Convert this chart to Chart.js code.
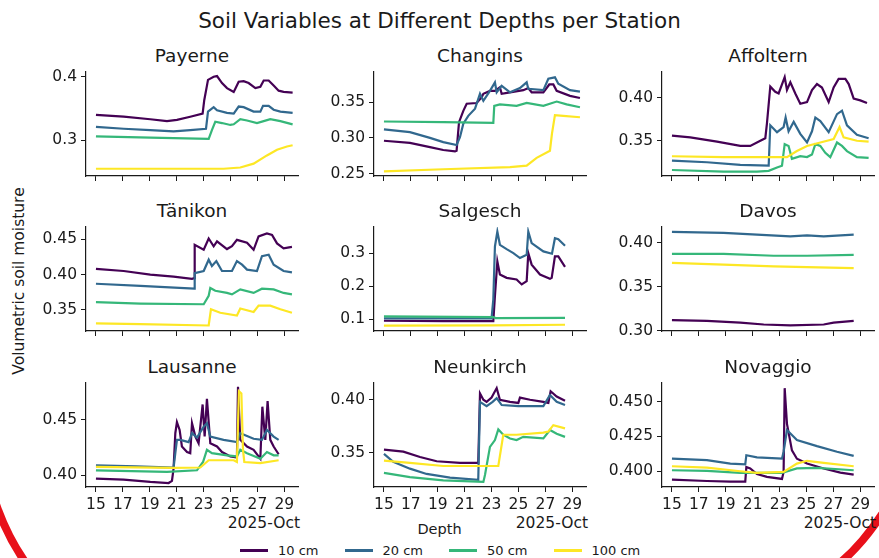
<!DOCTYPE html>
<html>
<head>
<meta charset="utf-8">
<script src="https://cdn.jsdelivr.net/npm/chart.js@4.4.1/dist/chart.umd.min.js"></script>
<style>
  body { margin: 0; width: 879px; height: 558px; overflow: hidden; background: #fff; position: relative; font-family: "DejaVu Sans", sans-serif; color: #1a1a1a; }
  .txt { position: absolute; white-space: nowrap; line-height: 1; }
  canvas.panel { position: absolute; }
  #legend { position: absolute; top: 542px; left: 240px; height: 16px; display: flex; align-items: center; font-size: 13px; }
  #legend .item { display: flex; align-items: center; margin-right: 26px; }
  #legend .swatch { width: 28px; height: 3px; margin-right: 10px; }
  #deco { position: absolute; left: 0; top: 0; pointer-events: none; }
</style>
</head>
<body>
<div class="txt" id="title" style="left:0; width:879px; text-align:center; top:10px; font-size:21.5px;">Soil Variables at Different Depths per Station</div>
<div class="txt" id="ylabel" style="left:20px; top:281px; font-size:15.5px; transform: translate(-50%, -50%) rotate(-90deg);">Volumetric soil moisture</div>
<div class="txt" style="left:0; width:879px; text-align:center; top:522px; font-size:14.5px;">Depth</div>
<div id="legend"></div>
<svg id="deco" width="879" height="558">
  <path d="M -6 498 Q 6 536 28 566" fill="none" stroke="#e8101a" stroke-width="8"/>
  <path d="M 836 566 Q 862 546 886 508" fill="none" stroke="#e8101a" stroke-width="8"/>
</svg>
<script>
// depth series colours (viridis)
const depths = ["10 cm", "20 cm", "50 cm", "100 cm"];
const depthColors = ["#440154", "#31688e", "#35b779", "#fde725"];

// x axis: day of October 2025
const dayTicks = ["15", "17", "19", "21", "23", "25", "27", "29"];
const dayRange = [14.26, 30.02];

const stations = ["Payerne", "Changins", "Affoltern", "Tänikon", "Salgesch", "Davos", "Lausanne", "Neunkirch", "Novaggio"];

// per station y limits and tick labels
const yRanges = [
  [0.2436, 0.4074], [0.2465, 0.3925], [0.309, 0.430],
  [0.3202, 0.4672], [0.064, 0.379], [0.2996, 0.4176],
  [0.3894, 0.4834], [0.3177, 0.4158], [0.3887, 0.4633]
];
const yTicks = [
  ["0.3", "0.4"], ["0.25", "0.30", "0.35"], ["0.35", "0.40"],
  ["0.35", "0.40", "0.45"], ["0.1", "0.2", "0.3"], ["0.30", "0.35", "0.40"],
  ["0.40", "0.45"], ["0.35", "0.40"], ["0.400", "0.425", "0.450"]
];

// series: [day, value] for 10, 20, 50, 100 cm
const payerne = [
  [[15.0,.340],[17.06,.337],[19.04,.333],[20.28,.330],[21.02,.332],[22.01,.337],[22.93,.342],[23.05,.363],[23.33,.395],[23.75,.400],[24.0,.401],[24.37,.390],[24.74,.382],[25.24,.376],[25.36,.381],[25.61,.392],[25.98,.393],[26.35,.390],[26.85,.382],[27.22,.384],[27.47,.394],[27.84,.394],[28.21,.386],[28.58,.378],[28.95,.376],[29.62,.375]],
  [[15.0,.321],[17.06,.318],[19.04,.316],[20.77,.314],[22.01,.316],[23.18,.318],[23.33,.345],[23.75,.352],[24.0,.347],[24.74,.343],[25.24,.342],[25.61,.353],[25.98,.352],[26.72,.345],[27.22,.345],[27.42,.354],[27.84,.354],[28.21,.348],[28.71,.345],[29.62,.343]],
  [[15.0,.306],[19.04,.304],[23.38,.302],[23.62,.316],[23.87,.329],[24.37,.327],[24.99,.324],[25.24,.325],[25.73,.333],[26.23,.331],[26.97,.327],[27.47,.330],[27.96,.333],[28.71,.330],[29.62,.325]],
  [[15.0,.255],[20.77,.255],[24.49,.255],[25.73,.257],[26.72,.263],[27.71,.276],[28.46,.285],[29.20,.290],[29.62,.292]]
];
const changins = [
  [[15.0,.296],[16.93,.293],[18.42,.287],[19.41,.283],[20.28,.281],[20.40,.282],[20.58,.322],[20.90,.338],[21.15,.348],[21.89,.349],[22.26,.357],[22.39,.362],[22.88,.366],[23.25,.366],[23.62,.371],[23.75,.362],[24.37,.364],[25.36,.367],[25.73,.370],[25.98,.364],[26.85,.364],[27.29,.375],[27.59,.375],[27.84,.366],[28.83,.359],[29.57,.356]],
  [[15.0,.312],[16.93,.308],[18.42,.300],[19.41,.294],[20.40,.290],[20.65,.301],[20.90,.320],[21.27,.331],[21.77,.341],[22.14,.362],[22.39,.352],[22.88,.366],[23.25,.378],[23.38,.364],[23.75,.373],[24.37,.364],[25.11,.370],[25.61,.378],[25.73,.369],[26.85,.367],[27.22,.383],[27.71,.385],[27.96,.376],[28.83,.367],[29.57,.365]],
  [[15.0,.323],[19.41,.322],[23.13,.321],[23.20,.345],[23.62,.347],[24.86,.345],[25.61,.349],[26.85,.345],[27.84,.351],[28.58,.347],[29.57,.343]],
  [[15.0,.253],[19.41,.256],[24.37,.259],[25.61,.261],[26.35,.272],[27.34,.282],[27.49,.306],[27.71,.332],[28.33,.331],[29.57,.329]]
];
const affoltern = [
  [[15.0,.356],[16.36,.354],[18.35,.349],[20.08,.344],[20.82,.344],[21.57,.350],[21.94,.353],[22.06,.370],[22.31,.413],[22.68,.407],[22.93,.405],[23.38,.424],[23.55,.409],[23.80,.418],[24.17,.405],[24.54,.393],[25.04,.395],[25.41,.409],[25.78,.416],[26.15,.412],[26.65,.395],[27.02,.412],[27.39,.422],[27.89,.422],[28.14,.416],[28.51,.399],[29.0,.397],[29.50,.394]],
  [[15.0,.327],[17.60,.325],[20.08,.322],[22.19,.321],[22.31,.368],[22.81,.360],[23.30,.366],[23.45,.377],[23.67,.361],[24.05,.372],[24.54,.358],[25.04,.348],[25.41,.361],[25.66,.377],[26.03,.373],[26.65,.360],[27.27,.381],[27.64,.385],[28.01,.368],[28.75,.357],[29.62,.353]],
  [[15.0,.316],[18.84,.314],[21.32,.314],[22.19,.315],[22.81,.319],[23.18,.321],[23.38,.346],[23.67,.344],[23.92,.329],[24.54,.332],[25.04,.331],[25.41,.334],[25.66,.346],[26.03,.344],[26.40,.336],[26.77,.331],[27.27,.348],[27.64,.344],[28.01,.338],[28.75,.331],[29.62,.330]],
  [[15.0,.332],[18.84,.331],[22.56,.331],[23.55,.331],[24.29,.338],[25.04,.344],[26.03,.348],[27.02,.352],[27.46,.366],[27.76,.354],[28.75,.350],[29.62,.349]]
];
const taenikon = [
  [[15.0,.408],[17.06,.405],[19.04,.400],[20.77,.397],[22.14,.394],[22.31,.395],[22.34,.442],[23.01,.435],[23.38,.451],[23.75,.440],[24.0,.447],[24.74,.436],[25.11,.440],[25.48,.449],[26.23,.445],[26.72,.435],[27.09,.454],[27.71,.458],[28.09,.456],[28.46,.444],[28.95,.437],[29.57,.439]],
  [[15.0,.387],[18.30,.384],[22.31,.380],[22.34,.402],[23.01,.405],[23.38,.421],[23.62,.412],[23.95,.419],[24.37,.405],[25.11,.405],[25.48,.419],[25.86,.414],[26.23,.407],[26.97,.405],[27.34,.426],[27.84,.428],[28.21,.414],[28.95,.405],[29.57,.403]],
  [[15.0,.361],[18.30,.359],[23.01,.358],[23.38,.370],[23.50,.381],[23.87,.377],[24.74,.374],[25.11,.372],[25.73,.379],[26.72,.374],[27.34,.380],[28.21,.379],[28.95,.374],[29.57,.372]],
  [[15.0,.331],[18.30,.330],[23.38,.328],[23.55,.351],[24.24,.346],[25.48,.342],[25.73,.352],[26.72,.347],[27.09,.356],[27.96,.356],[28.71,.351],[29.57,.346]]
];
const salgesch = [
  [[15.0,.095],[19.41,.094],[23.13,.094],[23.25,.170],[23.43,.275],[23.62,.235],[24.12,.225],[24.86,.220],[25.24,.205],[25.61,.215],[25.73,.300],[25.98,.265],[26.60,.235],[27.34,.222],[27.47,.225],[27.71,.290],[27.96,.290],[28.46,.258]],
  [[15.0,.102],[19.41,.102],[23.0,.102],[23.13,.160],[23.25,.320],[23.43,.365],[23.62,.325],[24.12,.312],[24.62,.300],[25.11,.285],[25.61,.295],[25.73,.365],[25.98,.330],[26.85,.305],[27.49,.298],[27.71,.345],[27.96,.342],[28.46,.322]],
  [[15.0,.108],[23.13,.106],[23.30,.103],[28.46,.104]],
  [[15.0,.080],[23.0,.081],[28.46,.083]]
];
const davos = [
  [[15.0,.312],[17.60,.311],[20.08,.309],[21.82,.307],[23.80,.306],[26.28,.307],[27.02,.309],[28.51,.311]],
  [[15.0,.412],[18.84,.411],[21.32,.409],[23.80,.407],[25.04,.408],[26.28,.407],[28.51,.409]],
  [[15.0,.387],[18.84,.387],[22.56,.385],[25.04,.385],[28.51,.386]],
  [[15.0,.377],[18.84,.375],[22.56,.373],[25.04,.372],[28.51,.371]]
];
const lausanne = [
  [[15.0,.397],[17.06,.396],[19.04,.394],[20.40,.393],[20.65,.395],[20.77,.406],[20.90,.438],[21.02,.448],[21.22,.441],[21.39,.426],[21.77,.421],[22.01,.420],[22.14,.447],[22.39,.435],[22.63,.429],[22.93,.464],[23.08,.435],[23.25,.469],[23.50,.429],[24.0,.426],[24.37,.421],[24.99,.417],[25.48,.416],[25.56,.480],[25.73,.432],[26.23,.426],[26.72,.423],[27.22,.415],[27.37,.462],[27.59,.432],[27.76,.467],[27.96,.432],[28.21,.426],[28.58,.419]],
  [[15.0,.409],[18.0,.408],[20.77,.407],[20.90,.420],[21.02,.432],[21.27,.432],[21.89,.430],[22.14,.438],[22.51,.434],[23.01,.444],[23.25,.447],[23.50,.435],[24.49,.432],[25.48,.430],[25.73,.438],[26.72,.433],[27.34,.432],[27.71,.441],[28.21,.435],[28.58,.432]],
  [[15.0,.4045],[20.28,.403],[22.51,.4045],[22.96,.412],[23.25,.423],[23.62,.420],[24.74,.418],[25.48,.417],[25.73,.423],[26.23,.420],[27.22,.415],[27.71,.421],[28.21,.418],[28.58,.418]],
  [[15.0,.4076],[20.77,.4067],[22.76,.407],[23.38,.4136],[25.24,.4136],[25.48,.412],[25.63,.476],[25.81,.474],[25.93,.423],[26.03,.412],[27.22,.411],[28.58,.4136]]
];
const neunkirch = [
  [[15.0,.353],[16.44,.351],[17.68,.346],[18.92,.342],[20.65,.3405],[22.01,.3405],[22.14,.406],[22.39,.400],[22.63,.398],[23.0,.402],[23.38,.411],[23.62,.400],[24.37,.398],[24.99,.397],[25.11,.402],[25.86,.400],[26.85,.398],[27.22,.397],[27.39,.408],[27.84,.403],[28.46,.399]],
  [[15.0,.349],[15.69,.3415],[16.93,.335],[18.17,.330],[19.91,.3265],[22.01,.3245],[22.14,.398],[22.63,.394],[23.08,.398],[23.38,.4015],[23.75,.395],[24.99,.394],[26.85,.394],[27.34,.4045],[27.84,.398],[28.46,.395]],
  [[15.0,.331],[16.93,.327],[19.41,.324],[22.39,.3225],[22.51,.329],[22.88,.3555],[23.25,.362],[23.50,.372],[23.87,.367],[24.37,.3635],[24.86,.362],[25.36,.365],[26.85,.3635],[27.34,.3715],[27.84,.368],[28.46,.365]],
  [[15.0,.3425],[16.93,.3405],[19.41,.3375],[23.50,.3375],[23.87,.367],[24.86,.367],[26.85,.369],[27.22,.370],[27.59,.376],[28.46,.373]]
];
const novaggio = [
  [[15.0,.394],[17.60,.393],[19.34,.3925],[20.45,.3925],[20.53,.403],[20.82,.402],[21.32,.398],[22.06,.396],[23.18,.3945],[23.30,.3995],[23.38,.4596],[23.55,.434],[23.92,.415],[24.29,.409],[25.04,.4055],[26.28,.402],[27.52,.399],[28.51,.3976]],
  [[15.0,.409],[17.60,.408],[19.34,.4055],[20.45,.405],[20.53,.4115],[21.32,.410],[23.18,.409],[23.30,.414],[23.55,.4296],[24.29,.4224],[25.78,.418],[27.27,.414],[28.51,.411]],
  [[15.0,.4007],[17.60,.4002],[20.08,.3988],[23.18,.3988],[24.29,.402],[25.78,.4024],[28.51,.4007]],
  [[15.0,.4036],[17.60,.4026],[20.08,.400],[21.32,.3988],[23.30,.3995],[24.29,.4055],[25.04,.4075],[26.28,.406],[28.51,.4036]]
];
const stationSeries = [payerne, changins, affoltern, taenikon, salgesch, davos, lausanne, neunkirch, novaggio];

// layout of the 3x3 grid (plot area corners)
const colLeft = [86, 374, 662];
const rowTop = [72, 227, 383];
const plotW = 212, plotH = 104;
const yAxisW = 60;

Chart.defaults.font.family = "DejaVu Sans";
Chart.defaults.font.size = 15.5;
Chart.defaults.color = "#1a1a1a";

stations.forEach((name, i) => {
  const col = i % 3;
  const row = Math.floor(i / 3);
  const bottomRow = row === 2;

  const title = document.createElement("div");
  title.className = "txt";
  title.textContent = name;
  title.style.cssText = `left:${colLeft[col]}px; width:${plotW}px; text-align:center; top:${rowTop[row] - 25}px; font-size:18.5px;`;
  document.body.appendChild(title);

  if (bottomRow) {
    const off = document.createElement("div");
    off.className = "txt";
    off.textContent = "2025-Oct";
    off.style.cssText = `left:${colLeft[col] + plotW + 2 - 200}px; width:200px; text-align:right; top:${rowTop[row] + plotH + 29}px; font-size:15.5px;`;
    document.body.appendChild(off);
  }

  const canvas = document.createElement("canvas");
  canvas.className = "panel";
  const padLeft = 6;
  const w = padLeft + yAxisW + plotW + 14;
  const h = 14 + plotH + (bottomRow ? 36 : 16);
  canvas.width = w;
  canvas.height = h;
  canvas.style.width = w + "px";
  canvas.style.height = h + "px";
  canvas.style.left = (colLeft[col] - yAxisW - padLeft) + "px";
  canvas.style.top = (rowTop[row] - 14) + "px";
  document.body.appendChild(canvas);

  const labels = yTicks[i];
  new Chart(canvas, {
    type: "line",
    data: {
      datasets: stationSeries[i].map((pts, d) => ({
        label: depths[d],
        data: pts.map((p) => ({ x: p[0], y: p[1] })),
        borderColor: depthColors[d],
        borderWidth: 2.2,
        pointRadius: 0,
        tension: 0,
        order: 3 - d,
      })),
    },
    options: {
      responsive: false,
      animation: false,
      events: [],
      layout: { padding: { left: padLeft, right: 14, top: 14, bottom: 8 } },
      plugins: { legend: { display: false }, tooltip: { enabled: false } },
      scales: {
        x: {
          type: "linear",
          min: dayRange[0],
          max: dayRange[1],
          bounds: "data",
          afterBuildTicks: (axis) => { axis.ticks = dayTicks.map((t) => ({ value: Number(t) })); },
          afterFit: (axis) => { axis.height = bottomRow ? 28 : 8; },
          ticks: {
            display: bottomRow,
            maxRotation: 0,
            autoSkip: false,
            padding: 4,
            callback: (v, idx) => dayTicks[idx],
          },
          grid: { drawOnChartArea: false, drawTicks: true, tickLength: 5, color: "#1a1a1a" },
          border: { display: true, color: "#1a1a1a", width: 1.2 },
        },
        y: {
          type: "linear",
          min: yRanges[i][0],
          max: yRanges[i][1],
          bounds: "data",
          afterBuildTicks: (axis) => { axis.ticks = labels.map((t) => ({ value: Number(t) })); },
          afterFit: (axis) => { axis.width = yAxisW; },
          ticks: {
            padding: 4,
            autoSkip: false,
            callback: (v, idx) => labels[idx],
          },
          grid: { drawOnChartArea: false, drawTicks: true, tickLength: 5, color: "#1a1a1a" },
          border: { display: true, color: "#1a1a1a", width: 1.2 },
        },
      },
    },
  });
});

// figure legend
const legend = document.getElementById("legend");
depths.forEach((d, k) => {
  const item = document.createElement("div");
  item.className = "item";
  item.innerHTML = `<span class="swatch" style="background:${depthColors[k]}"></span><span>${d}</span>`;
  legend.appendChild(item);
});
</script>
</body>
</html>
